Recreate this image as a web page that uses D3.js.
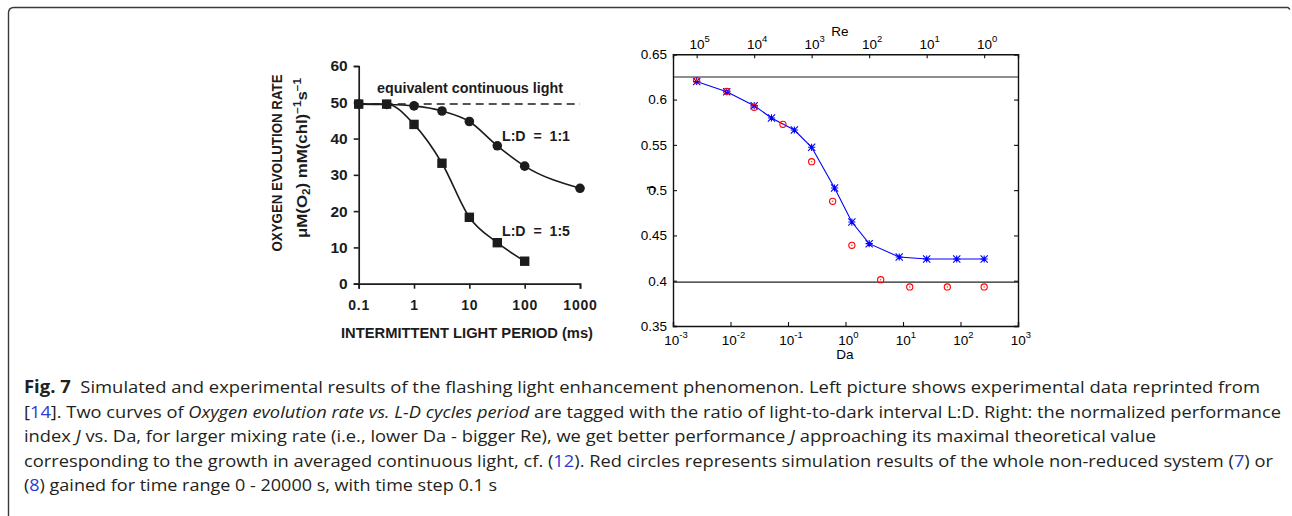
<!DOCTYPE html>
<html>
<head>
<meta charset="utf-8">
<script src="https://cdn.jsdelivr.net/npm/d3@7/dist/d3.min.js"></script>
<style>
html,body{margin:0;padding:0;background:#fff;}
svg{display:block;}
</style>
</head>
<body>
<svg id="fig" width="1292" height="516"></svg>
<script>
// ---------- Left chart data (experimental, reprinted) ----------
const periodMs11 = [0.1, 0.32, 1, 3.2, 10, 32, 100, 1000];
const rate11     = [49.5, 49.4, 49.0, 47.6, 44.7, 38.0, 32.4, 26.3];
const periodMs15 = [0.1, 0.32, 1, 3.2, 10, 32, 100];
const rate15     = [49.5, 49.5, 43.9, 33.2, 18.3, 11.3, 6.2];
const continuousRate = 49.5;
const leftYTicks = [0, 10, 20, 30, 40, 50, 60];
const leftXTicks = [0.1, 1, 10, 100, 1000];
const leftXTickLabels = ["0.1", "1", "10", "100", "1000"];

// ---------- Right chart data (simulation) ----------
const daReduced = [0.00258, 0.0086, 0.0258, 0.0516, 0.129, 0.258, 0.646, 1.29, 2.58, 8.6, 25.8, 86, 258];
const jReduced  = [0.620, 0.6087, 0.5933, 0.5797, 0.5664, 0.5473, 0.5024, 0.4648, 0.4409, 0.4262, 0.4240, 0.4240, 0.4240];
const daFull    = [0.00258, 0.0086, 0.0258, 0.0817, 0.258, 0.598, 1.29, 4.09, 13.1, 59, 258];
const jFull     = [0.621, 0.6091, 0.5915, 0.5727, 0.5314, 0.4877, 0.4391, 0.4011, 0.3931, 0.3931, 0.3931];
const jMax = 0.625, jMin = 0.3985;
const rightYTicks = [0.35, 0.4, 0.45, 0.5, 0.55, 0.6, 0.65];
const rightYTickLabels = ["0.35", "0.4", "0.45", "0.5", "0.55", "0.6", "0.65"];
const daTickExp = [-3, -2, -1, 0, 1, 2, 3];
const reTickExp = [5, 4, 3, 2, 1, 0];
const reDomain = [258000, 0.258];

// ---------- Caption ----------
const captionLines = [
  [{t:"Fig. 7", b:true}, {t:"  Simulated and experimental results of the flashing light enhancement phenomenon. Left picture shows experimental data reprinted from"}],
  [{t:"["}, {t:"14", l:true}, {t:"]. Two curves of "}, {t:"Oxygen evolution rate vs. L-D cycles period", i:true}, {t:" are tagged with the ratio of light-to-dark interval L:D. Right: the normalized performance"}],
  [{t:"index "}, {t:"J", i:true}, {t:" vs. Da, for larger mixing rate (i.e., lower Da - bigger Re), we get better performance "}, {t:"J", i:true}, {t:" approaching its maximal theoretical value"}],
  [{t:"corresponding to the growth in averaged continuous light, cf. ("}, {t:"12", l:true}, {t:"). Red circles represents simulation results of the whole non-reduced system ("}, {t:"7", l:true}, {t:") or"}],
  [{t:"("}, {t:"8", l:true}, {t:") gained for time range 0 - 20000 s, with time step 0.1 s"}]
];
const captionEnds = [1260, 1281, 1156, 1273, 497];

const svg = d3.select("#fig");

// ---------- Frame ----------
svg.append("path")
  .attr("d", "M8.5,516 L8.5,13 Q8.5,7.5 14,7.5 L1288,7.5 L1290,9.5")
  .attr("fill", "none").attr("stroke", "#3a3a3a").attr("stroke-width", 1.4);

// ================= LEFT CHART =================
const ink = "#1c1c1c";
const fontL = "'Liberation Sans', Arial, sans-serif";
const L = svg.append("g").attr("font-family", fontL).attr("font-weight", "bold").attr("fill", ink);
const xL = d3.scaleLog().domain([0.1, 1000]).range([358.7, 580]);
const yL = d3.scaleLinear().domain([0, 60]).range([283.7, 66]);

// y axis
const yAxisL = L.append("g").attr("transform", `translate(${xL(0.1)},0)`)
  .call(d3.axisLeft(yL).tickValues(leftYTicks).tickSize(5).tickPadding(6).tickFormat(d3.format("d")));
yAxisL.select(".domain").attr("stroke", ink).attr("stroke-width", 1.7);
yAxisL.selectAll(".tick line").attr("stroke", ink).attr("stroke-width", 1.6);
yAxisL.selectAll(".tick text").attr("font-size", 15.5).attr("font-weight", "bold").attr("fill", ink)
  .attr("font-family", fontL);
// x axis
const xAxisL = L.append("g").attr("transform", `translate(0,${yL(0)})`)
  .call(d3.axisBottom(xL).tickValues(leftXTicks).tickSize(5).tickPadding(11)
    .tickFormat((d, i) => leftXTickLabels[i]));
xAxisL.select(".domain").attr("stroke", ink).attr("stroke-width", 1.7);
xAxisL.selectAll(".tick line").attr("stroke", ink).attr("stroke-width", 1.6);
xAxisL.selectAll(".tick text").attr("font-size", 14).attr("font-weight", "bold").attr("fill", ink)
  .attr("font-family", fontL).attr("letter-spacing", 0.8);

// titles
L.append("text").attr("x", 467).attr("y", 337.5).attr("text-anchor", "middle")
  .attr("font-size", 14.5).attr("textLength", 252).attr("lengthAdjust", "spacingAndGlyphs")
  .text("INTERMITTENT LIGHT PERIOD (ms)");
L.append("text").attr("transform", "translate(281.5,163) rotate(-90)").attr("text-anchor", "middle")
  .attr("font-size", 15.5).attr("textLength", 177).attr("lengthAdjust", "spacingAndGlyphs")
  .text("OXYGEN EVOLUTION RATE");
const yl2 = L.append("text").attr("transform", "translate(307,158) rotate(-90)").attr("text-anchor", "middle")
  .attr("font-size", 14.5).attr("textLength", 160).attr("lengthAdjust", "spacingAndGlyphs");
yl2.append("tspan").text("\u03BCM(O");
yl2.append("tspan").attr("dy", 3).attr("font-size", 10).text("2");
yl2.append("tspan").attr("dy", -3).text(") mM(chl)");
yl2.append("tspan").attr("dy", -6).attr("font-size", 10).text("\u22121");
yl2.append("tspan").attr("dy", 6).text("s");
yl2.append("tspan").attr("dy", -6).attr("font-size", 10).text("\u22121");

// dashed continuous light line
L.append("line").attr("x1", xL(0.1)).attr("x2", xL(1000))
  .attr("y1", yL(continuousRate)).attr("y2", yL(continuousRate))
  .attr("stroke", ink).attr("stroke-width", 1.5).attr("stroke-dasharray", "8,5");
L.append("text").attr("x", 377).attr("y", 93).attr("font-size", 14)
  .attr("textLength", 186).attr("lengthAdjust", "spacingAndGlyphs")
  .text("equivalent continuous light");

const lineL = d3.line().x(d => xL(d[0])).y(d => yL(d[1])).curve(d3.curveMonotoneX);
const s11 = periodMs11.map((p, i) => [p, rate11[i]]);
const s15 = periodMs15.map((p, i) => [p, rate15[i]]);
L.append("path").attr("d", lineL(s11)).attr("fill", "none").attr("stroke", ink).attr("stroke-width", 1.6);
L.append("path").attr("d", lineL(s15)).attr("fill", "none").attr("stroke", ink).attr("stroke-width", 1.6);
L.selectAll("circle.c11").data(s11).join("circle")
  .attr("cx", d => xL(d[0])).attr("cy", d => yL(d[1])).attr("r", 4.8).attr("fill", ink);
L.selectAll("rect.s15").data(s15).join("rect")
  .attr("x", d => xL(d[0]) - 4.7).attr("y", d => yL(d[1]) - 4.7)
  .attr("width", 9.4).attr("height", 9.4).attr("fill", ink);

L.append("text").attr("x", 502).attr("y", 140.5).attr("font-size", 15)
  .attr("textLength", 68).attr("lengthAdjust", "spacingAndGlyphs").attr("xml:space", "preserve").text("L:D  =  1:1");
L.append("text").attr("x", 502).attr("y", 235.5).attr("font-size", 15)
  .attr("textLength", 68).attr("lengthAdjust", "spacingAndGlyphs").attr("xml:space", "preserve").text("L:D  =  1:5");

// ================= RIGHT CHART =================
const R = svg.append("g").attr("font-family", fontL).attr("fill", "#000");
const xR = d3.scaleLog().domain([1e-3, 1e3]).range([673, 1018]);
const xRe = d3.scaleLog().domain(reDomain).range([673, 1018]);
const yR = d3.scaleLinear().domain([0.35, 0.65]).range([326, 54.3]);
const x0 = xR.range()[0], x1 = xR.range()[1], y0 = yR.range()[0], y1 = yR.range()[1];

// reference lines
R.append("line").attr("x1", x0).attr("x2", x1).attr("y1", yR(jMax)).attr("y2", yR(jMax))
  .attr("stroke", "#6a6a6a").attr("stroke-width", 1.4);
R.append("line").attr("x1", x0).attr("x2", x1).attr("y1", yR(jMin)).attr("y2", yR(jMin))
  .attr("stroke", "#222").attr("stroke-width", 1.3);

// axes (MATLAB-style inward ticks)
const tk = 4;
const axL = R.append("g").attr("transform", `translate(${x0},0)`)
  .call(d3.axisRight(yR).tickValues(rightYTicks).tickSize(tk).tickFormat(""));
const axLlab = R.append("g").attr("transform", `translate(${x0},0)`)
  .call(d3.axisLeft(yR).tickValues(rightYTicks).tickSize(0).tickPadding(6).tickFormat((d, i) => rightYTickLabels[i]));
axLlab.select(".domain").remove();
const axRt = R.append("g").attr("transform", `translate(${x1},0)`)
  .call(d3.axisLeft(yR).tickValues(rightYTicks).tickSize(tk).tickFormat(""));
const daTicks = daTickExp.map(e => Math.pow(10, e));
const axB = R.append("g").attr("transform", `translate(0,${y0})`)
  .call(d3.axisTop(xR).tickValues(daTicks).tickSize(tk).tickFormat(""));
const reTicks = reTickExp.map(e => Math.pow(10, e));
const axT = R.append("g").attr("transform", `translate(0,${y1})`)
  .call(d3.axisBottom(xRe).tickValues(reTicks).tickSize(tk).tickFormat(""));
[axL, axRt, axB, axT].forEach(a => {
  a.select(".domain").attr("stroke", "#111").attr("stroke-width", 1.4);
  a.selectAll(".tick line").attr("stroke", "#111").attr("stroke-width", 1.1);
});
axLlab.selectAll(".tick text").attr("font-size", 13.5).attr("fill", "#000")
  .attr("font-family", fontL);

// power-of-ten labels
function powLabel(g, x, y, e) {
  const t = g.append("text").attr("x", x).attr("y", y).attr("text-anchor", "middle").attr("font-size", 13.5);
  t.append("tspan").text("10");
  t.append("tspan").attr("dy", -6.5).attr("font-size", 9.5).text(e < 0 ? "-" + (-e) : String(e));
}
daTickExp.forEach(e => powLabel(R, xR(Math.pow(10, e)) + 3, 344.5, e));
reTickExp.forEach(e => powLabel(R, xRe(Math.pow(10, e)) + 3, 48.5, e));

R.append("text").attr("x", 845).attr("y", 359).attr("text-anchor", "middle").attr("font-size", 13.5).text("Da");
R.append("text").attr("x", 840).attr("y", 36).attr("text-anchor", "middle").attr("font-size", 13.5).text("Re");
R.append("text").attr("transform", "translate(655.5,189) rotate(-90)").attr("text-anchor", "middle")
  .attr("font-size", 13.5).text("J");

// blue reduced-model line with asterisks
const blue = "#0000ff";
const redPts = daReduced.map((d, i) => [d, jReduced[i]]);
R.append("path").attr("d", d3.line().x(d => xR(d[0])).y(d => yR(d[1]))(redPts))
  .attr("fill", "none").attr("stroke", blue).attr("stroke-width", 1.1);
const star = R.selectAll("g.star").data(redPts).join("g")
  .attr("transform", d => `translate(${xR(d[0])},${yR(d[1])})`);
const a = 3.6;
star.append("path").attr("d", `M${-a},${-a}L${a},${a}M${-a},${a}L${a},${-a}M0,${-a}L0,${a}M${-a},0L${a},0`)
  .attr("stroke", blue).attr("stroke-width", 1.1).attr("fill", "none");

// red circles (full model)
const fullPts = daFull.map((d, i) => [d, jFull[i]]);
R.selectAll("circle.full").data(fullPts).join("circle")
  .attr("cx", d => xR(d[0])).attr("cy", d => yR(d[1])).attr("r", 3.1)
  .attr("fill", "none").attr("stroke", "#ff0000").attr("stroke-width", 1.1);
R.selectAll("circle.fulldot").data(fullPts).join("circle")
  .attr("cx", d => xR(d[0])).attr("cy", d => yR(d[1])).attr("r", 0.8).attr("fill", "#ff4040");

// ================= CAPTION =================
const C = svg.append("g").attr("font-family", "'Open Sans', 'Noto Sans', sans-serif").attr("fill", "#231f20");
const lineY = [393, 417.5, 442, 466.5, 491];
captionLines.forEach((segs, i) => {
  const t = C.append("text").attr("x", 24).attr("y", lineY[i]).attr("font-size", 17.2)
    .attr("textLength", captionEnds[i] - 24).attr("lengthAdjust", "spacingAndGlyphs")
    .attr("xml:space", "preserve");
  segs.forEach(s => {
    const sp = t.append("tspan").text(s.t);
    if (s.b) sp.attr("font-weight", "bold");
    if (s.i) sp.attr("font-style", "italic");
    if (s.l) sp.attr("fill", "#2b3bd6");
  });
});
</script>
</body>
</html>
